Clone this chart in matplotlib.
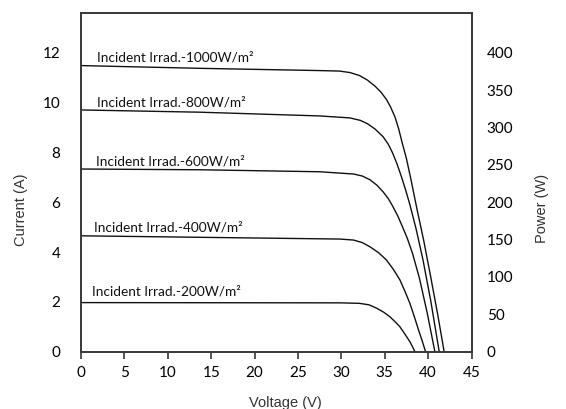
import matplotlib
matplotlib.use("Agg")
import matplotlib.pyplot as plt

# ---- data (voltage in V, current in A) ----
v_1000 = [0.00, 13.7, 27.5, 29.8, 31.0, 32.1, 33.0, 33.9, 34.6, 35.2, 35.7, 36.2, 36.6, 37.0,
          37.5, 38.0, 38.7, 39.5, 40.3, 41.1, 41.85]
i_1000 = [11.48, 11.37, 11.28, 11.26, 11.20, 11.08, 10.90, 10.65, 10.40, 10.12, 9.80, 9.40, 8.95, 8.40,
          7.75, 6.95, 5.75, 4.45, 3.00, 1.50, 0.00]

v_800 = [0.00, 13.7, 27.5, 31.0, 32.2, 33.0, 33.9, 34.8, 35.4, 35.9, 36.4, 36.9, 37.4, 37.9,
         38.6, 39.4, 40.3, 41.28]
i_800 = [9.70, 9.61, 9.46, 9.38, 9.28, 9.15, 8.93, 8.63, 8.33, 7.98, 7.55, 7.05, 6.50, 5.90,
         4.95, 3.70, 2.05, 0.00]

v_600 = [0.00, 13.7, 27.5, 31.4, 32.4, 33.3, 34.1, 34.8, 35.4, 35.9, 36.5, 37.0, 37.6, 38.2,
         39.0, 39.9, 40.78]
i_600 = [7.33, 7.30, 7.22, 7.13, 7.05, 6.90, 6.68, 6.42, 6.15, 5.85, 5.45, 5.05, 4.55, 3.95,
         2.95, 1.55, 0.00]

v_400 = [0.00, 13.7, 29.8, 31.4, 32.4, 33.3, 34.3, 35.2, 36.0, 36.75, 37.3, 37.9, 38.4, 38.9,
         39.3, 39.71]
i_400 = [4.65, 4.59, 4.52, 4.48, 4.38, 4.21, 3.97, 3.68, 3.30, 2.88, 2.45, 1.94, 1.42, 0.87,
         0.45, 0.00]

v_200 = [0.00, 29.9, 32.1, 33.2, 34.1, 34.9, 35.6, 36.2, 36.75, 37.3, 37.9, 38.2, 38.48]
i_200 = [1.97, 1.96, 1.94, 1.88, 1.74, 1.58, 1.40, 1.20, 1.00, 0.72, 0.40, 0.20, 0.00]

curve_labels = ["Incident Irrad.-1000W/m\u00b2", "Incident Irrad.-800W/m\u00b2",
                "Incident Irrad.-600W/m\u00b2", "Incident Irrad.-400W/m\u00b2",
                "Incident Irrad.-200W/m\u00b2"]
label_v = [1.8, 1.8, 1.7, 1.5, 1.3]
label_i = [11.8, 10.0, 7.65, 5.0, 2.4]

x_ticks = [0, 5, 10, 15, 20, 25, 30, 35, 40, 45]
current_ticks = [0, 2, 4, 6, 8, 10, 12]
power_ticks = [0, 50, 100, 150, 200, 250, 300, 350, 400]

tick_font = "Lato"
label_font = "Liberation Sans"
spine_color = "#3b3535"

fig = plt.figure(figsize=(5.66, 4.09), dpi=100)
ax = fig.add_axes([81/566, 1 - 351.7/409, (471.5-81)/566, (351.7-13)/409])

series = [(v_1000, i_1000), (v_800, i_800), (v_600, i_600), (v_400, i_400), (v_200, i_200)]
for (v, i) in series:
    ax.plot(v, i, color="#111111", lw=1.0, solid_joinstyle="round")

for txt, lv, li in zip(curve_labels, label_v, label_i):
    ax.text(lv, li, txt, fontsize=9.8, family=tick_font, color="#111111", va="center", ha="left")

ax.set_xlim(0, 45)
ax.set_ylim(0, 13.59)
ax.set_xticks(x_ticks)
ax.set_xticklabels([str(t) for t in x_ticks], family=tick_font, fontsize=11)
ax.set_yticks(current_ticks)
ax.set_yticklabels([str(t) for t in current_ticks], family=tick_font, fontsize=11)
ax.tick_params(axis="x", direction="out", length=5, width=1.2, color=spine_color, pad=5)
ax.tick_params(axis="y", length=0, pad=15)

ax2 = ax.twinx()
ax2.set_ylim(0, 453)
ax2.set_yticks(power_ticks)
ax2.set_yticklabels([str(t) for t in power_ticks], family=tick_font, fontsize=11)
ax2.tick_params(axis="y", length=0, pad=11)

for a in (ax, ax2):
    for s in a.spines.values():
        s.set_color(spine_color)
        s.set_linewidth(1.2)

fig.text(21/566, 1 - 210/409, "Current (A)", rotation=90, ha="center", va="center",
         family=label_font, fontsize=10.5, color="#333333")
fig.text(541.7/566, 1 - 208/409, "Power (W)", rotation=90, ha="center", va="center",
         family=label_font, fontsize=10.5, color="#333333")
fig.text(285/566, 1 - 403/409, "Voltage (V)", ha="center", va="center",
         family=label_font, fontsize=10.5, color="#333333")

fig.savefig("out.png", dpi=100)
